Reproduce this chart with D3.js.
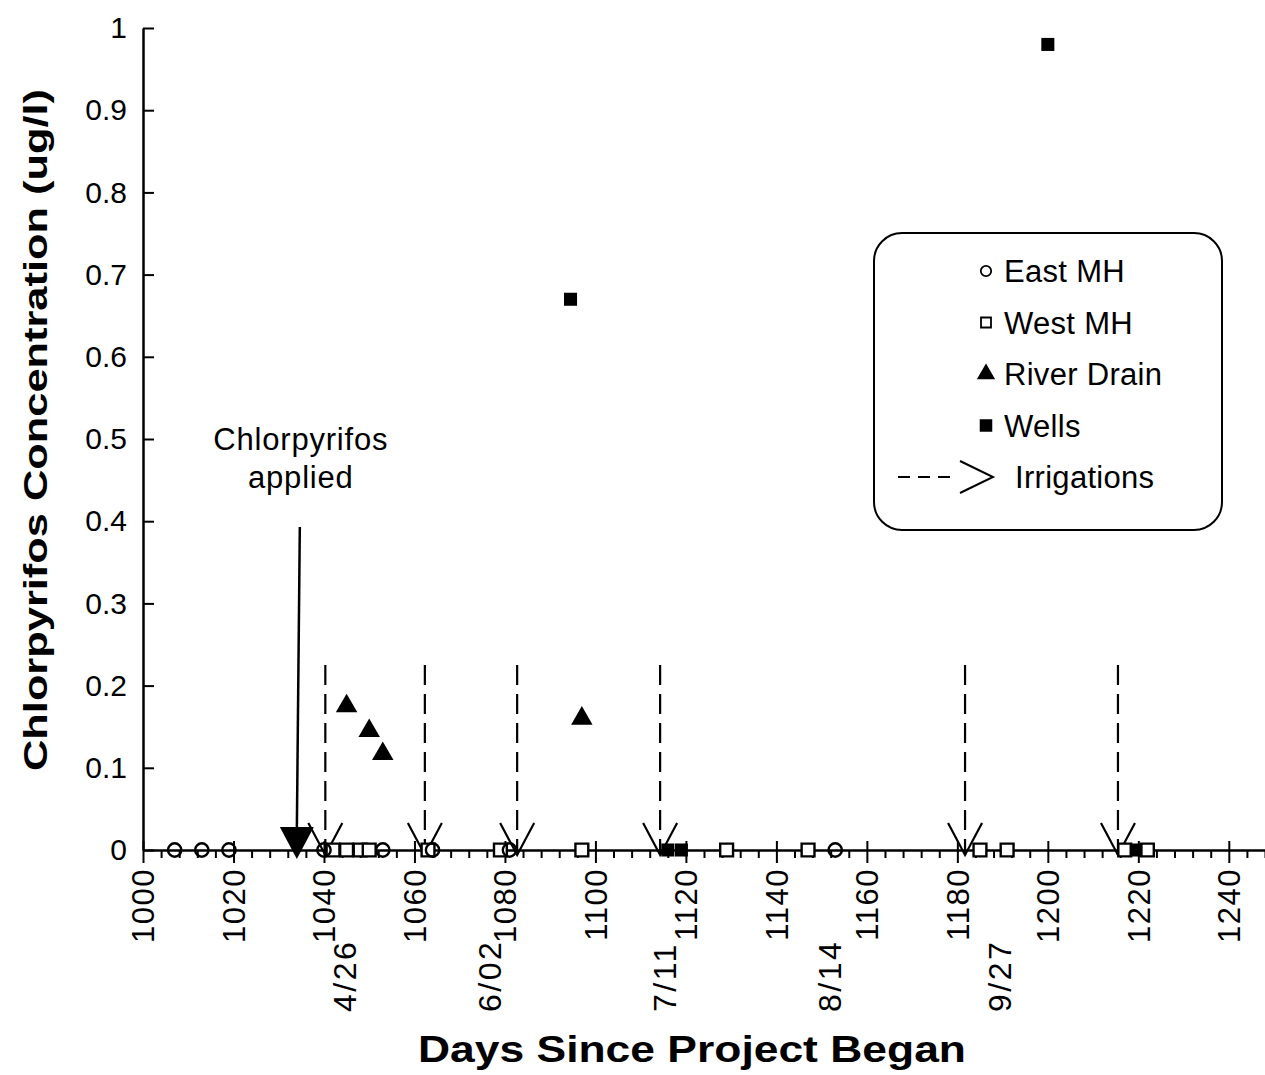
<!DOCTYPE html>
<html>
<head>
<meta charset="utf-8">
<script src="https://cdn.jsdelivr.net/npm/d3@7"></script>
<style>
  body { margin: 0; background: #fff; }
  svg { display: block; }
  text { font-family: "Liberation Sans", Arial, sans-serif; fill: #000; }
</style>
</head>
<body>
<div id="chart"></div>
<script>
// Sample data (day since project began, concentration ug/l)
const eastDays = [1007, 1013, 1019, 1040, 1053, 1064, 1081, 1153];
const eastConc = [0, 0, 0, 0, 0, 0, 0, 0];

const westDays = [1042, 1045, 1048, 1050, 1063, 1079, 1097, 1129, 1147, 1185, 1191, 1217, 1222];
const westConc = [0, 0, 0, 0, 0, 0, 0, 0, 0, 0, 0, 0, 0];

const drainDays = [1045, 1050, 1053, 1097];
const drainConc = [0.175, 0.145, 0.117, 0.16];

const wellDays = [1094.5, 1200, 1116, 1119, 1219.5];
const wellConc = [0.67, 0.98, 0, 0, 0];

const irrigationDays = [1040.3, 1062.3, 1082.7, 1114.3, 1181.7, 1215.5];
const irrigationTop = 0.225;

const appliedDay = 1034;

const dateLabels = ["4/26", "6/02", "7/11", "8/14", "9/27"];
const dateDays = [1044.6, 1076.7, 1115.4, 1151.9, 1189.4];

const xMajorTicks = d3.range(1000, 1241, 20);
const xMinorTicks = d3.range(1000, 1249, 4).filter(d => d % 20 !== 0);
const yTicks = d3.range(0, 11).map(i => i / 10);

const legendNames = ["East MH", "West MH", "River Drain", "Wells"];

const width = 1265, height = 1075;
const fontFam = "'Liberation Sans', Arial, sans-serif";

const x = d3.scaleLinear().domain([1000, 1248]).range([143, 1265]);
const y = d3.scaleLinear().domain([0, 1]).range([850, 28]);

const svg = d3.select("#chart").append("svg")
  .attr("width", width)
  .attr("height", height)
  .attr("viewBox", [0, 0, width, height]);

// ---- axes ----
const yAxis = d3.axisLeft(y)
  .tickValues(yTicks)
  .tickSizeInner(-11)
  .tickSizeOuter(0)
  .tickPadding(16)
  .tickFormat(d => (d === 0 || d === 1) ? String(d) : d.toFixed(1));

const gy = svg.append("g").attr("transform", `translate(${x(1000)},0)`).call(yAxis);
gy.select(".domain").attr("stroke-width", 2.5);
gy.selectAll(".tick line").attr("stroke-width", 2);
gy.selectAll(".tick text").style("font-size", "30px").style("font-family", fontFam);

const xMinor = d3.axisBottom(x).tickValues(xMinorTicks).tickSizeInner(8).tickSizeOuter(0).tickFormat("");
const gxm = svg.append("g").attr("transform", `translate(0,${y(0)})`).call(xMinor);
gxm.select(".domain").remove();
gxm.selectAll(".tick line").attr("stroke-width", 2);

const xAxis = d3.axisBottom(x)
  .tickValues(xMajorTicks)
  .tickSizeInner(13)
  .tickSizeOuter(0)
  .tickFormat(d3.format("d"));

const gx = svg.append("g").attr("transform", `translate(0,${y(0)})`).call(xAxis);
gx.select(".domain").attr("stroke-width", 2.5);
gx.selectAll(".tick line").attr("y1", -9).attr("stroke-width", 2);
gx.selectAll(".tick text")
  .attr("transform", "rotate(-90)")
  .attr("text-anchor", "end")
  .attr("x", -18)
  .attr("y", 0)
  .attr("dy", "0.35em")
  .style("font-size", "31px")
  .style("letter-spacing", "1.5px")
  .style("font-family", fontFam);

// date labels under the axis
svg.append("g")
  .selectAll("text")
  .data(dateLabels)
  .join("text")
  .attr("transform", (d, i) => `translate(${x(dateDays[i])},1012) rotate(-90)`)
  .attr("dy", "0.35em")
  .attr("text-anchor", "start")
  .style("font-size", "32px")
  .style("letter-spacing", "2.5px")
  .text(d => d);

// axis titles
svg.append("text")
  .attr("x", 692)
  .attr("y", 1062)
  .attr("text-anchor", "middle")
  .attr("textLength", 548)
  .attr("lengthAdjust", "spacingAndGlyphs")
  .style("font-size", "37px")
  .style("font-weight", "bold")
  .text("Days Since Project Began");

svg.append("text")
  .attr("transform", "translate(47,430) rotate(-90)")
  .attr("text-anchor", "middle")
  .attr("textLength", 682)
  .attr("lengthAdjust", "spacingAndGlyphs")
  .style("font-size", "34px")
  .style("font-weight", "bold")
  .text("Chlorpyrifos Concentration (ug/l)");

// ---- irrigation arrows ----
const irr = svg.append("g").attr("stroke", "#000").attr("stroke-width", 2.2).attr("fill", "none");
irrigationDays.forEach(d => {
  const cx = x(d), tip = y(0) + 5;
  irr.append("line")
    .attr("x1", cx).attr("x2", cx)
    .attr("y1", y(irrigationTop)).attr("y2", tip)
    .attr("stroke-dasharray", "20,9");
  irr.append("path")
    .attr("d", `M${cx - 17},${tip - 32}L${cx},${tip}L${cx + 17},${tip - 32}`);
});

// ---- chlorpyrifos applied arrow ----
const ax = x(appliedDay);
svg.append("line")
  .attr("x1", ax + 3).attr("x2", ax)
  .attr("y1", 527).attr("y2", 832)
  .attr("stroke", "#000").attr("stroke-width", 2.5);
svg.append("path")
  .attr("d", `M${ax - 17},${827}L${ax + 17},${827}L${ax},${859}Z`)
  .attr("fill", "#000");
svg.append("text").attr("x", ax + 4).attr("y", 450).attr("text-anchor", "middle")
  .style("font-size", "31px").style("letter-spacing", "0.8px").text("Chlorpyrifos");
svg.append("text").attr("x", ax + 4).attr("y", 488).attr("text-anchor", "middle")
  .style("font-size", "31px").style("letter-spacing", "0.8px").text("applied");

// ---- data markers ----
const circle = d3.symbol().type(d3.symbolCircle).size(140);
const square = d3.symbol().type(d3.symbolSquare).size(165);
const triangle = d3.symbol().type(d3.symbolTriangle).size(200);
const filledSq = d3.symbol().type(d3.symbolSquare).size(170);

svg.append("g").selectAll("path")
  .data(westDays)
  .join("path")
  .attr("transform", (d, i) => `translate(${x(d)},${y(westConc[i])})`)
  .attr("d", square)
  .attr("fill", "#fff").attr("stroke", "#000").attr("stroke-width", 2.4);

svg.append("g").selectAll("path")
  .data(eastDays)
  .join("path")
  .attr("transform", (d, i) => `translate(${x(d)},${y(eastConc[i])})`)
  .attr("d", circle)
  .attr("fill", "none").attr("stroke", "#000").attr("stroke-width", 2.4);

svg.append("g").selectAll("path")
  .data(drainDays)
  .join("path")
  .attr("transform", (d, i) => `translate(${x(d)},${y(drainConc[i])})`)
  .attr("d", triangle)
  .attr("fill", "#000");

svg.append("g").selectAll("path")
  .data(wellDays)
  .join("path")
  .attr("transform", (d, i) => `translate(${x(d)},${y(wellConc[i])})`)
  .attr("d", filledSq)
  .attr("fill", "#000");

// ---- legend ----
const lg = svg.append("g");
lg.append("rect")
  .attr("x", 874).attr("y", 233).attr("width", 348).attr("height", 297)
  .attr("rx", 28).attr("ry", 28)
  .attr("fill", "#fff").attr("stroke", "#000").attr("stroke-width", 2);

const legendSymbols = [
  { shape: d3.symbol().type(d3.symbolCircle).size(85), fill: "none" },
  { shape: d3.symbol().type(d3.symbolSquare).size(100), fill: "#fff" },
  { shape: d3.symbol().type(d3.symbolTriangle).size(100), fill: "#000" },
  { shape: d3.symbol().type(d3.symbolSquare).size(115), fill: "#000" }
];

legendNames.forEach((name, i) => {
  const cy = 271 + i * 51.5;
  lg.append("path")
    .attr("transform", `translate(986,${cy})`)
    .attr("d", legendSymbols[i].shape)
    .attr("fill", legendSymbols[i].fill)
    .attr("stroke", "#000").attr("stroke-width", 1.8);
  lg.append("text")
    .attr("x", 1004).attr("y", cy + 11)
    .style("font-size", "31px")
    .style("letter-spacing", "0.3px")
    .text(name);
});

lg.append("line")
  .attr("x1", 898).attr("x2", 955).attr("y1", 477).attr("y2", 477)
  .attr("stroke", "#000").attr("stroke-width", 2).attr("stroke-dasharray", "12,8");
lg.append("path")
  .attr("d", "M960,461L993,477L960,493")
  .attr("fill", "none").attr("stroke", "#000").attr("stroke-width", 2);
lg.append("text")
  .attr("x", 1015).attr("y", 488)
  .style("font-size", "31px")
  .style("letter-spacing", "0.3px")
  .text("Irrigations");
</script>
</body>
</html>
